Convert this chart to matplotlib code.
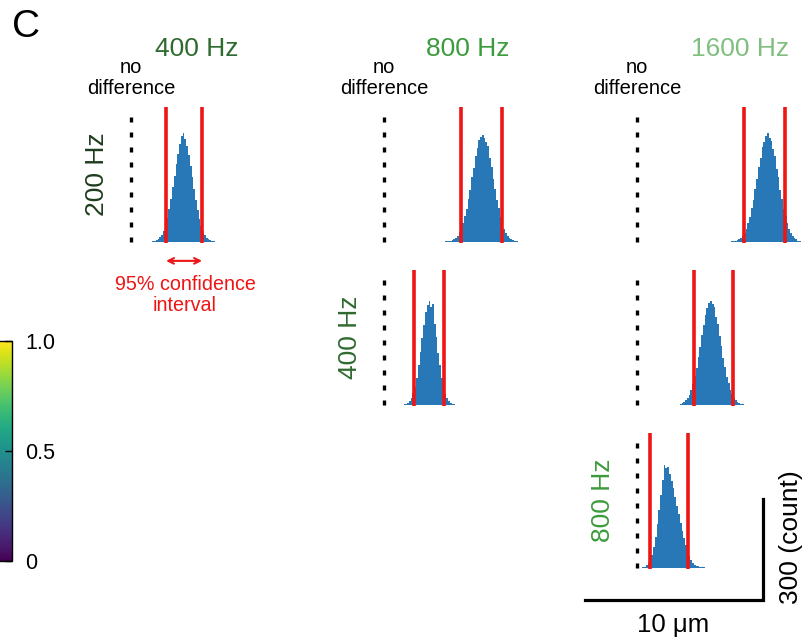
"""Bootstrap distributions of pairwise differences, one small histogram per frequency pair."""

import matplotlib.pyplot as plt
import numpy as np
from matplotlib.cm import ScalarMappable
from matplotlib.colors import Normalize

plt.rcParams["font.family"] = ["Liberation Sans", "DejaVu Sans"]

W, H = 811, 643
PX_PER_UM = 17.8       # 10 um scale bar is ~178 px wide
PX_PER_COUNT = 0.337   # 300 count scale bar is ~101 px tall

COL_LABELS = ["400 Hz", "800 Hz", "1600 Hz"]
COL_COLORS = ["#2f6a2f", "#3c9b3c", "#80bf80"]
ROW_LABELS = ["200 Hz", "400 Hz", "800 Hz"]
ROW_COLORS = ["#1e3d1e", "#2f6a2f", "#3c9b3c"]

# (row, col) of each histogram in the grid
panel_cells = [(0, 0), (0, 1), (0, 2), (1, 1), (1, 2), (2, 2)]

BIN_WIDTH = 0.1  # um
hist_start = [1.2, 2.9, 4.8, 1.1, 2.4, 0.3]

counts_200_400 = [2, 3, 5, 8, 14, 22, 34, 50, 72, 98, 128, 162, 196, 232, 262, 290,
                  315, 322, 306, 284, 258, 226, 192, 158, 124, 94, 68, 48, 32, 20,
                  12, 8, 5, 3, 2, 1]
counts_200_800 = [1, 1, 1, 1, 1, 2, 2, 2, 3, 5, 8, 13, 18, 29, 41, 55, 77, 97, 129,
                  155, 193, 219, 255, 278, 303, 311, 318, 308, 296, 284, 250, 224,
                  188, 158, 125, 100, 74, 57, 39, 28, 18, 12, 8, 5, 3, 2]
counts_200_1600 = [1, 1, 1, 1, 1, 2, 2, 3, 5, 8, 12, 19, 27, 40, 57, 74, 100, 126,
                   158, 188, 223, 250, 281, 298, 315, 322, 310, 300, 276, 254, 218,
                   192, 155, 128, 98, 76, 55, 40, 27, 19, 12, 8, 4, 2]
counts_400_800 = [2, 3, 6, 12, 20, 35, 54, 80, 118, 158, 198, 238, 276, 296, 308,
                  290, 300, 240, 202, 154, 118, 80, 56, 34, 21, 12, 6, 3, 2]
counts_400_1600 = [3, 5, 9, 14, 21, 31, 45, 63, 85, 111, 141, 173, 207, 238, 267,
                   289, 303, 308, 300, 290, 262, 240, 205, 176, 138, 113, 84, 64,
                   44, 32, 20, 14, 9, 5, 3, 2, 1]
counts_800_1600 = [2, 4, 8, 14, 24, 40, 62, 92, 130, 172, 218, 262, 305, 296, 300,
                   280, 258, 236, 210, 184, 160, 134, 110, 88, 68, 50, 36, 24, 16,
                   10, 7, 5, 4, 3, 2, 1]
hist_counts = [counts_200_400, counts_200_800, counts_200_1600,
               counts_400_800, counts_400_1600, counts_800_1600]

ci_low = [1.97, 4.33, 6.01, 1.69, 3.20, 0.73]
ci_high = [3.99, 6.63, 8.31, 3.37, 5.39, 2.87]

NO_DIFF = 0.0
SCALE_UM = 10
SCALE_COUNT = 300

# layout, in pixels of the 811x643 canvas
COL_X = [131, 384, 637]     # x of the "no difference" line
ROW_BASE = [242, 405, 568]  # y of the histogram baseline

HIST_COLOR = "#2878b8"
CI_COLOR = "#ee1515"

fig = plt.figure(figsize=(W / 100, H / 100), dpi=100)


def px_axes(x0, yb, xlim=(-1.0, 10.0), ylim=(-20, 420)):
    """Axes whose data origin sits at pixel (x0, yb) with the shared scale."""
    left = x0 + xlim[0] * PX_PER_UM
    bottom = yb - ylim[0] * PX_PER_COUNT
    width = (xlim[1] - xlim[0]) * PX_PER_UM
    height = (ylim[1] - ylim[0]) * PX_PER_COUNT
    ax = fig.add_axes([left / W, 1 - bottom / H, width / W, height / H])
    ax.set_xlim(*xlim)
    ax.set_ylim(*ylim)
    ax.axis("off")
    return ax


def ftext(x, y, s, **kw):
    fig.text(x / W, 1 - y / H, s, ha="center", va="center", **kw)


axes = []
for (row, col), start, counts, lo, hi in zip(panel_cells, hist_start, hist_counts, ci_low, ci_high):
    ax = px_axes(COL_X[col], ROW_BASE[row])
    edges = start + BIN_WIDTH * np.arange(len(counts) + 1)
    ax.stairs(counts, edges, fill=True, color=HIST_COLOR, lw=0)
    ax.vlines(NO_DIFF, 0, 390, color="black", lw=2.4, linestyles=(0, (1.5, 3)))
    ax.vlines([lo, hi], -3, 400, color=CI_COLOR, lw=2.6)
    axes.append(ax)

# column headers + "no difference" captions
for col, (label, color) in enumerate(zip(COL_LABELS, COL_COLORS)):
    ftext([197, 468, 740][col], 49, label, color=color, fontsize=19)
    ftext(COL_X[col], 78, "no\ndifference", color="black", fontsize=14.5, linespacing=1.1)

# row labels
for row, (label, color) in enumerate(zip(ROW_LABELS, ROW_COLORS)):
    ftext(COL_X[row] - 34, ROW_BASE[row] - 68, label, color=color, fontsize=19, rotation=90)

# confidence interval annotation under the first histogram
ax0 = axes[0]
ax0.annotate("", xy=(ci_high[0], -56), xytext=(ci_low[0], -56),
             arrowprops=dict(arrowstyle="<->", color=CI_COLOR, lw=1.5,
                             shrinkA=0, shrinkB=0, mutation_scale=10),
             annotation_clip=False)
ftext(185, 295, "95% confidence\ninterval", color=CI_COLOR, fontsize=14.2, linespacing=1.1)

ftext(26, 27, "C", fontsize=28)

# scale bar next to the last histogram
axs = axes[-1]
bar_x, bar_y = 7.08, -95
axs.plot([bar_x - SCALE_UM, bar_x, bar_x], [bar_y, bar_y, bar_y + SCALE_COUNT],
         color="black", lw=2.3, clip_on=False, solid_joinstyle="miter")
ftext(673, 625, "10 \u03bcm", fontsize=18.5)
ftext(791, 537, f"{SCALE_COUNT} (count)", fontsize=19, rotation=90)

# colorbar, cut by the left edge
cax = fig.add_axes([-20 / W, 1 - 561 / H, 32 / W, 220 / H])
cbar = fig.colorbar(ScalarMappable(norm=Normalize(0, 1), cmap="viridis"), cax=cax,
                    ticks=[0, 0.5, 1])
cbar.ax.set_yticklabels(["0", "0.5", "1.0"])
cbar.ax.tick_params(direction="in", length=5, width=1, labelsize=15.5, pad=9.5)
cbar.outline.set_linewidth(1)

fig.savefig("out.png", dpi=100)
